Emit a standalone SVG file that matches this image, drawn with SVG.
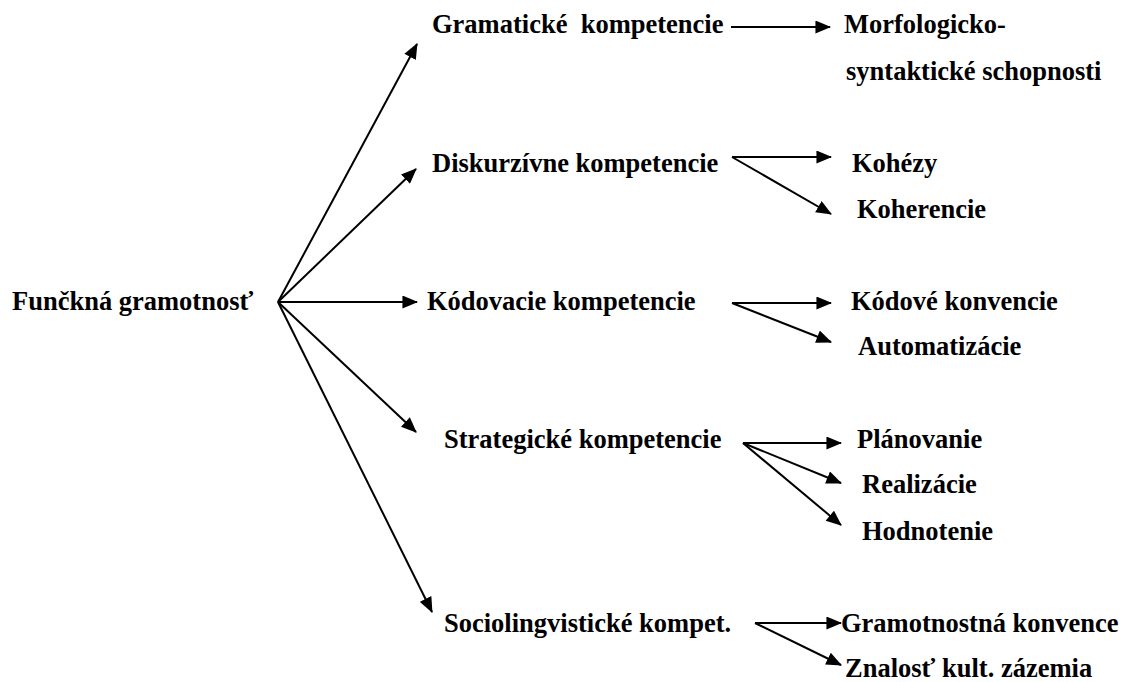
<svg xmlns="http://www.w3.org/2000/svg" width="1125" height="682" viewBox="0 0 1125 682">
  <style>
    text { font-family: "Liberation Serif", "Times New Roman", "DejaVu Serif", serif; font-weight: 700; font-size: 26.5px; fill: #000; white-space: pre; }
    .c { stroke: #000; stroke-width: 2; fill: none; marker-end: url(#ah); }
  </style>
  <defs>
    <marker id="ah" markerUnits="userSpaceOnUse" markerWidth="16" markerHeight="13" refX="14" refY="6.25" orient="auto" viewBox="0 0 15 12.5">
      <path d="M0,0 L15,6.25 L0,12.5 Z" fill="#000"/>
    </marker>
  </defs>
  <rect width="1125" height="682" fill="#fff"/>

  <g id="connectors">
    <line class="c" x1="278" y1="302" x2="417" y2="44"/>
    <line class="c" x1="278" y1="302" x2="416" y2="169"/>
    <line class="c" x1="278" y1="302" x2="417" y2="302"/>
    <line class="c" x1="278" y1="302" x2="416" y2="432"/>
    <line class="c" x1="278" y1="302" x2="432" y2="612"/>

    <line class="c" x1="731" y1="27" x2="830" y2="27"/>

    <line class="c" x1="732" y1="157" x2="831" y2="157"/>
    <line class="c" x1="732" y1="157" x2="831" y2="214"/>

    <line class="c" x1="732" y1="303" x2="831" y2="303"/>
    <line class="c" x1="732" y1="303" x2="831" y2="342"/>

    <line class="c" x1="743" y1="443" x2="841" y2="443"/>
    <line class="c" x1="743" y1="443" x2="841" y2="483"/>
    <line class="c" x1="743" y1="443" x2="841" y2="525"/>

    <line class="c" x1="755" y1="623" x2="841" y2="623"/>
    <line class="c" x1="755" y1="623" x2="841" y2="665"/>
  </g>

  <g id="funkcna-gramotnost"><text x="12" y="310">Funčkná gramotnosť</text></g>

  <g id="gramaticke"><text x="432" y="33">Gramatické  kompetencie</text></g>
  <g id="morfologicko"><text x="844" y="33">Morfologicko-</text><text x="846" y="80">syntaktické schopnosti</text></g>

  <g id="diskurzivne"><text x="432" y="172">Diskurzívne kompetencie</text></g>
  <g id="kohezy"><text x="852" y="172">Kohézy</text></g>
  <g id="koherencie"><text x="857" y="218">Koherencie</text></g>

  <g id="kodovacie"><text x="427" y="310">Kódovacie kompetencie</text></g>
  <g id="kodove-konvencie"><text x="851" y="310">Kódové konvencie</text></g>
  <g id="automatizacie"><text x="858" y="355">Automatizácie</text></g>

  <g id="strategicke"><text x="444" y="448">Strategické kompetencie</text></g>
  <g id="planovanie"><text x="857" y="448">Plánovanie</text></g>
  <g id="realizacie"><text x="862" y="493">Realizácie</text></g>
  <g id="hodnotenie"><text x="862" y="540">Hodnotenie</text></g>

  <g id="sociolingvisticke"><text x="444" y="632">Sociolingvistické kompet.</text></g>
  <g id="gramotnostna-konvence"><text x="841" y="632">Gramotnostná konvence</text></g>
  <g id="znalost"><text x="845" y="677">Znalosť kult. zázemia</text></g>
</svg>
